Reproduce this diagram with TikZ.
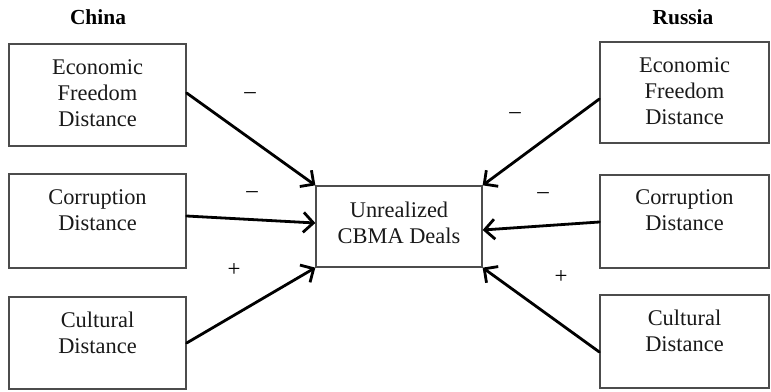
\documentclass[tikz,border=0pt]{standalone}
\usepackage{fontspec}
\setmainfont{Liberation Serif}
\usetikzlibrary{arrows.meta}
\begin{document}
\begin{tikzpicture}[x=1bp,y=-1bp,
  box/.style={draw=black!70, line width=1.3bp, inner sep=0pt},
  txt/.style={font=\fontsize{22.5}{26}\selectfont, align=center, inner sep=0pt, text=black!90},
  ttl/.style={font=\fontsize{21.5}{25}\selectfont\bfseries, inner sep=0pt},
  sgn/.style={font=\fontsize{23}{26}\selectfont, inner sep=0pt},
  arr/.style={line width=2.8bp, line cap=round, -{Straight Barb[length=10bp,width=20bp]}}]
\useasboundingbox (0,0) rectangle (771,391);
% titles
\node[ttl] (tC) at (98,17) {China};
\node[ttl] (tR) at (683,17) {Russia};
% left boxes
\node[box, minimum width=177bp, minimum height=102bp] (L1) at (97.5,95) {};
\node[box, minimum width=177bp, minimum height=94bp] (L2) at (97.5,221) {};
\node[box, minimum width=177bp, minimum height=92bp] (L3) at (97.5,343) {};
% right boxes
\node[box, minimum width=169bp, minimum height=101bp] (R1) at (684.5,92.5) {};
\node[box, minimum width=169bp, minimum height=93bp] (R2) at (684.5,221.5) {};
\node[box, minimum width=169bp, minimum height=93bp] (R3) at (684.5,341.5) {};
% center box
\node[box, minimum width=166bp, minimum height=81bp] (C) at (399,226.5) {};
% texts
\node[txt] (L1t) at ([yshift=2bp]L1.center) {Economic\\Freedom\\Distance};
\node[txt] (L2t) at ([yshift=11bp]L2.center) {Corruption\\Distance};
\node[txt] (L3t) at ([yshift=10bp]L3.center) {Cultural\\Distance};
\node[txt] (R1t) at ([yshift=1.5bp]R1.center) {Economic\\Freedom\\Distance};
\node[txt] (R2t) at ([yshift=11.5bp]R2.center) {Corruption\\Distance};
\node[txt] (R3t) at ([yshift=10.5bp]R3.center) {Cultural\\Distance};
\node[txt] (Ct) at ([yshift=3.5bp]C.center) {Unrealized\\CBMA Deals};
% arrows
\draw[arr] ([yshift=2bp]L1.east) -- (C.north west);
\draw[arr] ([yshift=5bp]L2.east) -- ([yshift=3.5bp]C.west);
\draw[arr] (L3.east) -- (C.south west);
\draw[arr] ([yshift=-6.5bp]R1.west) -- (C.north east);
\draw[arr] ([yshift=-0.5bp]R2.west) -- ([yshift=-3.5bp]C.east);
\draw[arr] ([yshift=-10.5bp]R3.west) -- (C.south east);
% signs
\node[sgn] (s1) at (250,96) {–};
\node[sgn] (s2) at (252,195) {–};
\node[sgn] (s3) at (234,270) {+};
\node[sgn] (s4) at (515,116) {–};
\node[sgn] (s5) at (543,196) {–};
\node[sgn] (s6) at (561,277) {+};
\end{tikzpicture}
\end{document}
